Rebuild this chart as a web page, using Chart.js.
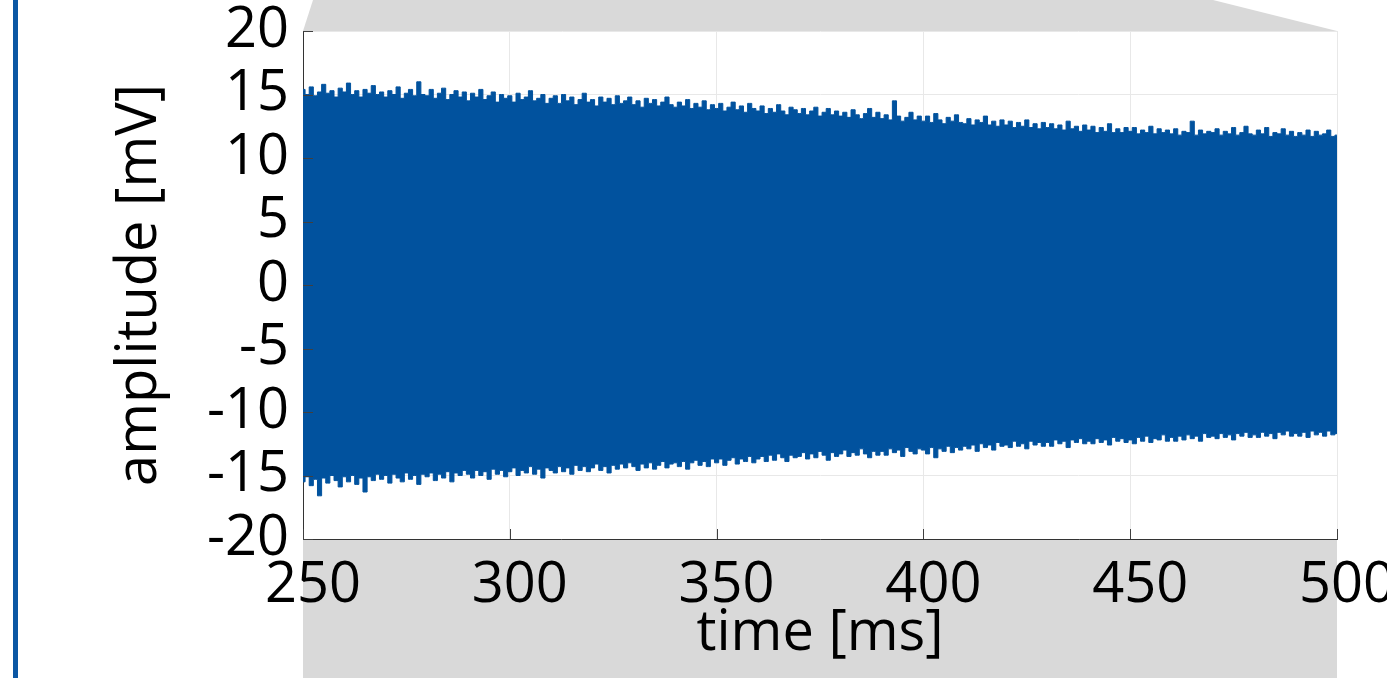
<!DOCTYPE html>
<html>
<head>
<meta charset="utf-8">
<script src="https://cdn.jsdelivr.net/npm/chart.js@4/dist/chart.umd.min.js"></script>
<style>
html, body { margin: 0; padding: 0; background: #fff; }
#wrap { width: 1387px; height: 678px; position: relative; }
</style>
</head>
<body>
<div id="wrap"><canvas id="chart"></canvas></div>
<script>
// time axis: one sample per ms from 250 to 500
const tStart = 250;
const tStep = 1;

// upper envelope of the signal [mV]
const upper = [
  15.4, 15.0, 15.6, 14.9, 15.2, 15.8, 15.1, 15.3, 14.8, 15.5,
  15.2, 15.9, 15.0, 15.3, 14.8, 15.4, 15.1, 15.7, 15.0, 15.2,
  14.8, 15.3, 15.0, 15.6, 14.7, 15.1, 15.4, 14.9, 16.0, 15.0,
  14.9, 15.4, 14.7, 15.1, 15.5, 14.6, 15.0, 15.3, 14.8, 15.2,
  14.5, 15.1, 14.8, 15.4, 14.6, 14.9, 15.2, 14.4, 15.0, 14.7,
  14.9, 14.4, 15.1, 14.6, 14.8, 15.3, 14.5, 14.7, 15.0, 14.3,
  14.7, 14.9, 14.3, 15.0, 14.5, 14.8, 14.2, 14.6, 15.1, 14.4,
  14.6, 14.1, 14.8, 14.4, 14.7, 14.2, 14.9, 14.3, 14.5, 14.8,
  14.2, 14.5, 14.0, 14.7, 14.3, 14.6, 14.1, 14.4, 14.8, 14.2,
  14.0, 14.4, 14.1, 14.6, 13.9, 14.3, 14.0, 14.5, 13.8, 14.2,
  13.9, 14.3, 13.7, 14.0, 14.4, 13.8, 14.1, 13.6, 14.3, 13.9,
  13.7, 14.1, 13.5, 13.9, 13.6, 14.2, 13.7, 13.4, 14.0, 13.8,
  13.5, 13.9, 13.4, 13.7, 14.0, 13.3, 13.6, 13.9, 13.4, 13.7,
  13.3, 13.6, 13.2, 13.8, 13.4, 13.1, 13.5, 13.9, 13.2, 13.6,
  13.1, 13.4, 13.0, 14.5, 13.3, 12.9, 13.2, 13.6, 13.0, 13.3,
  12.9, 13.3, 12.8, 13.5, 13.0, 12.7, 13.2, 12.9, 13.4, 12.8,
  12.7, 13.1, 12.6, 13.0, 12.8, 13.3, 12.6, 12.9, 12.5, 13.0,
  12.6, 12.9, 12.4, 12.8, 12.5, 13.0, 12.4, 12.7, 12.3, 12.8,
  12.4, 12.7, 12.3, 12.6, 12.2, 12.9, 12.3, 12.5, 12.1, 12.6,
  12.2, 12.5, 12.0, 12.4, 12.1, 12.7, 12.0, 12.3, 12.0, 12.4,
  12.1, 12.4, 11.9, 12.2, 12.0, 12.5, 11.9, 12.3, 12.0, 12.2,
  11.9, 12.3, 11.8, 12.1, 12.0, 12.9, 11.8, 12.2, 11.9, 12.1,
  12.0, 12.3, 11.8, 12.1, 11.9, 12.4, 11.8, 12.0, 12.5, 11.9,
  11.8, 12.2, 11.9, 12.4, 11.7, 12.0, 11.9, 12.3, 11.8, 12.1,
  11.7, 12.0, 11.8, 12.2, 11.7, 12.1, 11.8, 11.9, 12.2, 11.7,
  11.8
];

// lower envelope of the signal [mV]
const lower = [
  -15.5, -15.1, -15.8, -15.3, -16.6, -15.2, -15.6, -15.0, -15.4, -15.9,
  -15.1, -15.5, -15.0, -15.7, -15.2, -16.3, -15.1, -15.4, -14.9, -15.3,
  -15.0, -15.6, -14.9, -15.2, -15.5, -14.8, -15.3, -15.0, -15.7, -14.9,
  -15.1, -14.8, -15.4, -14.9, -15.2, -14.7, -15.5, -14.8, -15.0, -14.6,
  -14.9, -15.2, -14.6, -15.0, -14.7, -15.3, -14.5, -14.9, -14.6, -15.1,
  -14.7, -14.4, -15.0, -14.6, -14.8, -14.3, -14.9, -14.5, -15.2, -14.4,
  -14.6, -14.8, -14.3, -14.7, -14.4, -14.9, -14.2, -14.6, -14.3, -14.7,
  -14.4, -14.1, -14.6, -14.3, -14.8, -14.2, -14.5, -14.1, -14.4, -14.0,
  -14.3, -14.6, -14.1, -14.4, -14.0, -14.5, -14.2, -13.9, -14.4, -14.1,
  -14.0, -14.3, -13.9, -14.5, -14.0, -13.8, -14.2, -13.9, -14.3, -13.7,
  -14.0, -13.7, -14.2, -13.8, -13.6, -14.1, -13.7, -13.9, -13.5, -14.0,
  -13.7, -13.5, -13.9, -13.4, -13.8, -13.3, -13.6, -13.9, -13.4, -13.6,
  -13.5, -13.2, -13.7, -13.3, -13.6, -13.1, -13.4, -13.8, -13.2, -13.5,
  -13.3, -13.0, -13.5, -13.2, -13.4, -12.9, -13.3, -13.6, -13.1, -13.4,
  -13.1, -13.4, -12.9, -13.2, -13.0, -13.5, -12.8, -13.1, -13.3, -12.9,
  -13.0, -13.3, -12.8, -13.6, -12.9, -13.1, -12.7, -13.2, -12.8, -13.0,
  -12.7, -12.9, -12.6, -13.1, -12.5, -12.8, -12.6, -13.0, -12.4, -12.7,
  -12.6, -12.8, -12.3, -12.7, -12.5, -12.9, -12.3, -12.6, -12.4, -12.7,
  -12.4, -12.7, -12.2, -12.5, -12.3, -12.8, -12.2, -12.4, -12.1, -12.5,
  -12.3, -12.5, -12.1, -12.4, -12.2, -12.6, -12.0, -12.3, -12.1, -12.4,
  -12.2, -12.5, -12.0, -12.3, -11.9, -12.4, -12.1, -12.2, -11.8, -12.3,
  -12.0, -12.3, -11.9, -12.2, -11.8, -12.1, -11.9, -12.3, -11.7, -12.0,
  -11.9, -12.1, -11.7, -12.0, -11.8, -12.2, -11.7, -11.9, -11.6, -12.0,
  -11.8, -12.0, -11.6, -11.9, -11.7, -12.1, -11.6, -11.8, -11.5, -11.9,
  -11.7, -11.9, -11.6, -12.0, -11.5, -11.8, -11.6, -11.9, -11.5, -11.8,
  -11.7
];

const xTicks = [250, 300, 350, 400, 450, 500];
const yTicks = [-20, -15, -10, -5, 0, 5, 10, 15, 20];

const sigBlue = '#01529e';

const toPoints = arr => arr.map((v, i) => ({ x: tStart + i * tStep, y: v }));

// grey slide shapes, left bar and inward tick marks
const decor = {
  id: 'decor',
  beforeDraw(chart) {
    const { ctx, chartArea: a, height } = chart;
    ctx.save();
    ctx.fillStyle = '#d9d9d9';
    ctx.beginPath();
    ctx.moveTo(a.left + 10, 0);
    ctx.lineTo(a.right - 124, 0);
    ctx.lineTo(a.right, a.top);
    ctx.lineTo(a.left, a.top);
    ctx.closePath();
    ctx.fill();
    ctx.fillRect(a.left, a.bottom, a.right - a.left, height - a.bottom);
    ctx.fillStyle = '#0b57a4';
    ctx.fillRect(13, 0, 5, height);
    ctx.restore();
  },
  afterDraw(chart) {
    const { ctx, chartArea: a, scales } = chart;
    ctx.save();
    ctx.strokeStyle = '#404040';
    ctx.lineWidth = 1;
    ctx.beginPath();
    xTicks.forEach(t => {
      const px = Math.round(scales.x.getPixelForValue(t)) + 0.5;
      ctx.moveTo(px, a.bottom);
      ctx.lineTo(px, a.bottom - 10);
    });
    yTicks.forEach(t => {
      const py = Math.round(scales.y.getPixelForValue(t)) + 0.5;
      ctx.moveTo(a.left, py);
      ctx.lineTo(a.left + 10, py);
    });
    ctx.stroke();
    ctx.restore();
  }
};

Chart.defaults.font.family = "'Open Sans', sans-serif";
Chart.defaults.color = '#000';

new Chart(document.getElementById('chart'), {
  type: 'line',
  data: {
    datasets: [
      {
        data: toPoints(upper),
        borderColor: sigBlue,
        backgroundColor: sigBlue,
        borderWidth: 1,
        pointRadius: 0,
        stepped: 'middle',
        fill: '+1'
      },
      {
        data: toPoints(lower),
        borderColor: sigBlue,
        backgroundColor: sigBlue,
        borderWidth: 1,
        pointRadius: 0,
        stepped: 'middle',
        fill: false
      }
    ]
  },
  options: {
    responsive: true,
    maintainAspectRatio: false,
    animation: false,
    layout: { padding: { top: 31, right: 50, left: 0, bottom: 0 } },
    plugins: { legend: { display: false }, tooltip: { enabled: false } },
    scales: {
      x: {
        type: 'linear',
        min: 250,
        max: 500,
        afterFit: s => { s.height = 139; s.paddingLeft = 0; s.paddingRight = 0; },
        afterBuildTicks: s => { s.ticks = xTicks.map(v => ({ value: v })); },
        ticks: {
          font: { size: 56 },
          padding: 13,
          labelOffset: 10,
          maxRotation: 0,
          autoSkip: false
        },
        grid: { color: '#e8e8e8', drawTicks: false },
        border: { color: '#333', width: 1 },
        title: {
          display: true,
          text: 'time [ms]',
          font: { size: 56 },
          padding: { top: 12, bottom: 10 }
        }
      },
      y: {
        min: -20,
        max: 20,
        afterFit: s => { s.width = 303; s.paddingTop = 0; s.paddingBottom = 0; },
        afterBuildTicks: s => { s.ticks = yTicks.map(v => ({ value: v })); },
        ticks: { font: { size: 56 }, padding: 14, autoSkip: false },
        grid: { color: '#e8e8e8', drawTicks: false },
        border: { color: '#333', width: 1 },
        title: {
          display: true,
          text: 'amplitude [mV]',
          font: { size: 56 },
          padding: { top: 106, bottom: 106 }
        }
      }
    }
  },
  plugins: [decor]
});
</script>
</body>
</html>
